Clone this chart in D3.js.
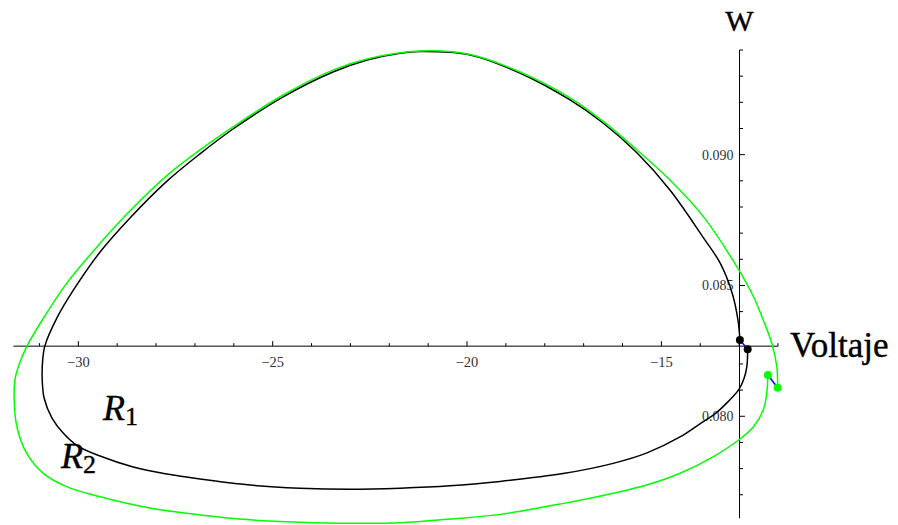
<!DOCTYPE html>
<html>
<head>
<meta charset="utf-8">
<script src="https://cdn.jsdelivr.net/npm/d3@7"></script>
<style>
  html, body { margin: 0; padding: 0; background: #fff; }
  svg { display: block; }
</style>
</head>
<body>
<svg id="chart" width="898" height="525"></svg>
<script>
// trajectory R1 (black), Voltaje vs W
const r1V = [-12.78, -12.80, -12.87, -13.00, -13.29, -13.59, -14.01, -14.52, -15.37, -16.24,
  -17.53, -19.15, -20.44, -21.72, -23.01, -24.30, -25.58, -26.87, -27.72,
  -28.59, -29.44, -30.01, -30.39, -30.68, -30.88, -30.93, -30.92, -30.86, -30.55,
  -30.14, -29.44, -28.67, -27.74, -26.87, -26.02, -24.73, -23.45, -22.57, -21.72,
  -21.21, -19.92, -18.64, -17.35, -16.50, -15.63, -14.78, -13.93, -13.49, -13.18,
  -13.03, -12.98];
const r1W = [0.08256, 0.08192, 0.08146, 0.08104, 0.08055, 0.08013, 0.07971, 0.07921, 0.07860, 0.07820,
  0.07781, 0.07751, 0.07734, 0.07725, 0.07721, 0.07725, 0.07737, 0.07760, 0.07779,
  0.07806, 0.07848, 0.07886, 0.07936, 0.07994, 0.08070, 0.08146, 0.08208, 0.08269, 0.08376,
  0.08479, 0.08628, 0.08758, 0.08896, 0.09003, 0.09098, 0.09221, 0.09316, 0.09362, 0.09388,
  0.09394, 0.09381, 0.09312, 0.09209, 0.09121, 0.09007, 0.08865, 0.08685, 0.08586, 0.08471,
  0.08368, 0.08292];

// trajectory R2 (green)
const r2V = [-12.26, -12.29, -12.38, -12.63, -12.98, -13.66, -14.52, -15.38, -16.24, -17.52,
  -19.15, -20.44, -21.72, -23.01, -24.30, -25.58, -26.87, -28.16, -29.44, -30.30,
  -30.90, -31.33, -31.58, -31.65, -31.63, -31.54, -31.33, -30.91, -30.30, -29.44,
  -28.75, -27.73, -26.87, -26.01, -24.73, -23.44, -22.57, -21.21, -19.92, -18.64,
  -17.35, -16.49, -15.63, -14.78, -13.92, -13.06, -12.63, -12.38, -12.16, -12.03, -12.01];
const r2W = [0.08158, 0.08088, 0.08024, 0.07960, 0.07913, 0.07846, 0.07782, 0.07737, 0.07706, 0.07667,
  0.07625, 0.07607, 0.07593, 0.07591, 0.07595, 0.07604, 0.07623, 0.07649, 0.07692, 0.07731,
  0.07782, 0.07859, 0.07960, 0.08062, 0.08139, 0.08190, 0.08266, 0.08372, 0.08508, 0.08661,
  0.08773, 0.08919, 0.09018, 0.09107, 0.09228, 0.09324, 0.09366, 0.09396, 0.09383, 0.09316,
  0.09217, 0.09126, 0.09018, 0.08903, 0.08763, 0.08572, 0.08457, 0.08368, 0.08279, 0.08190, 0.08109];

// end points of each trajectory (joined by a blue segment)
const r1EndsV = [-12.98, -12.78];
const r1EndsW = [0.08292, 0.08256];
const r2EndsV = [-12.26, -12.01];
const r2EndsW = [0.08158, 0.08109];

const xMajor = [-30, -25, -20, -15];
const xMinor = d3.range(-31, -11, 1);
const yMajor = [0.080, 0.085, 0.090];
const yMinor = d3.range(77, 95).map(d => d / 1000);

const axisOriginV = -12.99;
const axisOriginW = 0.08268;

const svg = d3.select('#chart');
const x = d3.scaleLinear().domain([-31.67, -12.0]).range([13.4, 778]);
const y = d3.scaleLinear().domain([0.0761, 0.094]).range([518.3, 50]);

const x0 = x(axisOriginV);
const y0 = y(axisOriginW);

const serif = '"Liberation Serif", "Times New Roman", Times, serif';

// axes
const axes = svg.append('g').attr('stroke', '#000').attr('stroke-width', 1);
axes.append('line').attr('x1', x.range()[0]).attr('x2', x.range()[1]).attr('y1', y0).attr('y2', y0);
axes.append('line').attr('x1', x0).attr('x2', x0).attr('y1', y.range()[0]).attr('y2', y.range()[1]);

axes.selectAll('.xt').data(xMinor).join('line')
  .attr('x1', d => x(d)).attr('x2', d => x(d))
  .attr('y1', y0).attr('y2', d => y0 - (xMajor.includes(d) ? 5 : 3));

axes.selectAll('.yt').data(yMinor).join('line')
  .attr('y1', d => y(d)).attr('y2', d => y(d))
  .attr('x1', x0).attr('x2', d => x0 + (yMajor.some(m => Math.abs(m - d) < 1e-9) ? 5.5 : 3.5));

svg.append('g').selectAll('text').data(xMajor).join('text')
  .attr('x', d => x(d)).attr('y', y0 + 21)
  .attr('text-anchor', 'middle')
  .attr('fill', '#333')
  .style('font-family', serif).style('font-size', '14.5px')
  .text(d => '\u2212' + Math.abs(d));

svg.append('g').selectAll('text').data(yMajor).join('text')
  .attr('x', x0 - 6).attr('y', d => y(d) + 5)
  .attr('text-anchor', 'end')
  .attr('fill', '#333')
  .style('font-family', serif).style('font-size', '14px')
  .text(d => d.toFixed(3));

const big = svg.append('g').attr('stroke', '#000').attr('stroke-width', 0.4);
big.append('text').attr('x', 790).attr('y', 357)
  .style('font-family', serif).style('font-size', '35px')
  .text('Voltaje');
big.append('text').attr('x', x0).attr('y', 31).attr('text-anchor', 'middle')
  .style('font-family', serif).style('font-size', '30px')
  .text('W');

// trajectories
const line = d3.line().x(d => x(d[0])).y(d => y(d[1])).curve(d3.curveCatmullRom.alpha(0.5));
const r1 = r1V.map((v, i) => [v, r1W[i]]);
const r2 = r2V.map((v, i) => [v, r2W[i]]);

svg.append('path').attr('d', line(r1)).attr('fill', 'none').attr('stroke', '#000').attr('stroke-width', 1.5);
svg.append('path').attr('d', line(r2)).attr('fill', 'none').attr('stroke', '#00ff00').attr('stroke-width', 1.5);

[[r1EndsV, r1EndsW, '#000'], [r2EndsV, r2EndsW, '#00ff00']].forEach(([vs, ws, col]) => {
  svg.append('line')
    .attr('x1', x(vs[0])).attr('y1', y(ws[0])).attr('x2', x(vs[1])).attr('y2', y(ws[1]))
    .attr('stroke', '#0000ff').attr('stroke-width', 1.5);
  svg.append('g').selectAll('circle').data(vs).join('circle')
    .attr('cx', d => x(d)).attr('cy', (d, i) => y(ws[i])).attr('r', 4)
    .attr('fill', col);
});

// region labels
[['R', '1', 103, 420], ['R', '2', 61, 468]].forEach(([b, s, px, py]) => {
  const t = big.append('text').attr('x', px).attr('y', py)
    .style('font-family', serif).style('font-size', '36px');
  t.append('tspan').style('font-style', 'italic').text(b);
  t.append('tspan').attr('dy', 5).style('font-size', '26px').text(s);
});
</script>
</body>
</html>
